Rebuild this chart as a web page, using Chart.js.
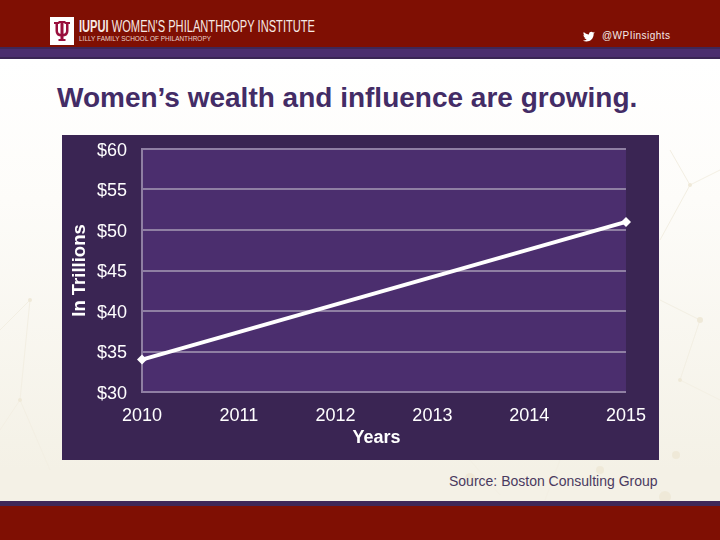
<!DOCTYPE html>
<html>
<head>
<meta charset="utf-8">
<title>Women's wealth and influence are growing.</title>
<script src="https://cdn.jsdelivr.net/npm/chart.js"></script>
<style>
  html, body { margin: 0; padding: 0; }
  body { width: 720px; height: 540px; overflow: hidden; position: relative;
         font-family: "Liberation Sans", Arial, sans-serif;
         background: linear-gradient(#ffffff 60px, #fdfcf9 200px, #f4f1e6 470px); }
  .band { position: absolute; left: 0; width: 720px; }
  #header { top: 0; height: 47px; background: #7f0f03; }
  #stripe { top: 47px; height: 12px; box-sizing: border-box; background: #4b2e6e;
            border-top: 2px solid #3f2757; border-bottom: 2px solid #3a2553; }
  #footer-stripe { top: 501px; height: 5px; background: #3f2757; }
  #footer { top: 506px; height: 34px; background: #7f0f03; }
  #deco, #brand { position: absolute; left: 0; top: 0; }
  h1 { position: absolute; left: 57px; top: 82px; margin: 0; white-space: nowrap;
       font-size: 28px; line-height: 32px; font-weight: bold; color: #432c66; }
  #source { position: absolute; left: 449px; top: 473px; font-size: 14px; line-height: 16px;
            color: #4a3a60; white-space: nowrap; }
  #progressChart { position: absolute; left: 62px; top: 135px; background: #3a2553; }
</style>
</head>
<body>
<svg id="deco" width="720" height="540">
  <g stroke="#f3efe3" stroke-width="1" fill="none">
    <path d="M670 150L690 185L660 240M690 185L720 170M660 300L700 320L680 380L720 400"/>
    <path d="M470 460L500 495M560 460L545 500M640 470L665 495"/>
    <path d="M0 330L30 300L20 400L50 470M20 400L0 430"/>
  </g>
  <g fill="#efe9d8">
    <circle cx="690" cy="185" r="2"/><circle cx="700" cy="320" r="3"/><circle cx="680" cy="380" r="2"/>
    <circle cx="470" cy="478" r="5"/><circle cx="600" cy="470" r="4"/><circle cx="665" cy="497" r="6"/>
    <circle cx="676" cy="455" r="4"/><circle cx="30" cy="300" r="2"/><circle cx="20" cy="400" r="2"/>
  </g>
</svg>
<div class="band" id="header"></div>
<div class="band" id="stripe"></div>
<div class="band" id="footer-stripe"></div>
<div class="band" id="footer"></div>

<svg id="brand" width="720" height="60">
  <rect x="50" y="17" width="24" height="28" fill="#ffffff"/>
  <g fill="#990f3d">
    <rect x="54" y="22" width="5.500" height="2"/>
    <rect x="64.500" y="22" width="5.500" height="2"/>
    <rect x="58.500" y="21" width="7" height="2"/>
    <rect x="58.500" y="39" width="7" height="2"/>
    <rect x="60.500" y="21" width="3" height="20"/>
    <path d="M55.500 23h2.500v8q0 3 4 3t4-3v-8h2.500v8q0 5.500-6.500 5.500t-6.500-5.500z"/>
  </g>
  <text x="79" y="32" font-family="'Liberation Sans Narrow','Liberation Sans',Arial,sans-serif" font-size="16" fill="#f6e9e4" textLength="236" lengthAdjust="spacingAndGlyphs"><tspan font-weight="bold">IUPUI</tspan> WOMEN'S PHILANTHROPY INSTITUTE</text>
  <text x="79" y="41" font-family="'Liberation Sans Narrow','Liberation Sans',Arial,sans-serif" font-size="8" fill="#e9d4cd" textLength="132" lengthAdjust="spacingAndGlyphs">LILLY FAMILY SCHOOL OF PHILANTHROPY</text>
  <path d="M595 31.300c-.5.200-1 .4-1.500.4.500-.3 1-.8 1.200-1.400-.5.300-1.100.5-1.700.6-1.300-1.400-3.900-.5-4 1.500 0 .2 0 .4.100.6-2.100-.1-4-1.100-5.300-2.600-.7 1.200-.3 2.700.8 3.400-.4 0-.8-.1-1.200-.3 0 1.200.9 2.300 2.100 2.600-.4.100-.8.100-1.200 0 .3 1 1.300 1.700 2.400 1.800-1.100.9-2.500 1.300-3.900 1.100 3.900 2.500 10.900.8 10.900-6.900.6-.3 1-.8 1.300-1.300z" fill="#ffffff" transform="translate(0,1.500)"/>
  <text x="602" y="39" font-family="'Liberation Sans',Arial,sans-serif" font-size="10" fill="#f5ebe8" textLength="68">@WPIinsights</text>
</svg>

<h1>Women’s wealth and influence are growing.</h1>
<canvas id="progressChart" width="597" height="325"></canvas>
<div id="source">Source: Boston Consulting Group</div>

<script>
// values, only the two end markers are shown
const years = ['2010', '2011', '2012', '2013', '2014', '2015'];
const wealth = [34, null, null, null, null, 51];
const tickValues = [30, 35, 40, 45, 50, 55, 60];

const gridColor = '#8f7fa3';
const textColor = '#ffffff';
const fontFamily = '"Liberation Sans", Arial, sans-serif';

// lighter purple behind the plot area
const plotBackground = {
  id: 'plotBackground',
  beforeDraw(chart) {
    const a = chart.chartArea;
    chart.ctx.fillStyle = '#4b2e6e';
    chart.ctx.fillRect(a.left, a.top, a.width, a.height);
  }
};

new Chart(document.getElementById('progressChart'), {
  type: 'line',
  plugins: [plotBackground],
  data: {
    labels: years,
    datasets: [
      {
        label: 'Wealth',
        data: wealth,
        spanGaps: true,
        clip: false,
        borderColor: '#ffffff',
        borderWidth: 4,
        tension: 0,
        pointStyle: 'rectRot',
        pointRadius: 5,
        pointBackgroundColor: '#ffffff',
        pointBorderColor: '#ffffff',
        pointBorderWidth: 0
      }
    ]
  },
  options: {
    responsive: false,
    animation: false,
    layout: { padding: { top: 14, right: 33, bottom: 11, left: 0 } },
    plugins: { legend: { display: false }, tooltip: { enabled: false } },
    scales: {
      x: {
        offset: false,
        afterFit(axis) { axis.height = 57; },
        grid: { display: false, drawTicks: false },
        border: { display: true, color: gridColor, width: 2 },
        ticks: {
          color: textColor,
          padding: 13,
          maxRotation: 0,
          autoSkip: false,
          font: { family: fontFamily, size: 18 }
        },
        title: {
          display: true,
          // trailing spaces pull the centred title a little to the left, as in the reference
          text: 'Years   ',
          color: textColor,
          padding: { top: 3, bottom: 0 },
          font: { family: fontFamily, size: 18, weight: 'bold' }
        }
      },
      y: {
        min: 30,
        max: 60,
        afterFit(axis) {
          axis.width = 80;
          // tick padding would otherwise push the plot area down
          axis.paddingTop = 0;
          axis.paddingBottom = 0;
        },
        afterBuildTicks(axis) { axis.ticks = tickValues.map((value) => ({ value })); },
        grid: { color: gridColor, lineWidth: 2, drawTicks: false },
        border: { display: true, color: gridColor, width: 2 },
        ticks: {
          color: textColor,
          padding: 15,
          labelOffset: 2,
          callback: (value) => '$' + value,
          font: { family: fontFamily, size: 18 }
        },
        title: {
          display: true,
          text: 'In Trillions',
          color: textColor,
          padding: { top: 7, bottom: 0 },
          font: { family: fontFamily, size: 18.5, weight: 'bold' }
        }
      }
    }
  }
});
</script>
</body>
</html>
